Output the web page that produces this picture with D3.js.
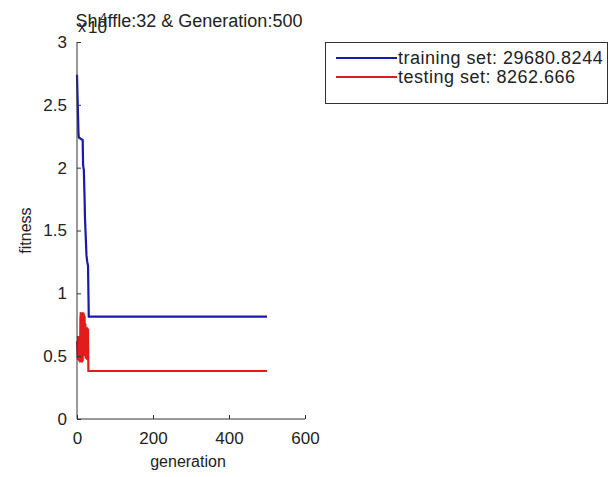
<!DOCTYPE html>
<html>
<head>
<meta charset="utf-8">
<script src="https://cdn.jsdelivr.net/npm/d3@7"></script>
<style>
  html, body { margin: 0; padding: 0; background: #fff; }
  svg { display: block; font-family: "Liberation Sans", Arial, sans-serif; }
</style>
</head>
<body>
<svg id="chart" width="608" height="477"></svg>
<script>
// ---- data (fitness in raw units, axis shows x10^4) ----
const trainGen     = [0, 2, 4, 5, 15, 16, 18, 20, 21, 23, 25, 27, 29, 31, 500];
const trainFitness = [27400, 25000, 22600, 22400, 22200, 20200, 19800, 17500, 16000, 14500, 13000, 12500, 12200, 8150, 8150];

const testGen     = [0, 1, 2, 3, 4, 5, 6, 7, 8, 9, 10, 11, 12, 13, 14, 15, 16, 17, 18, 19, 20, 21, 22, 23, 24, 25, 26, 27, 28, 29, 30, 500];
const testFitness = [6200, 5500, 4800, 6600, 4700, 5800, 4600, 5200, 4500, 8000, 8500, 5000, 8400, 4500, 8300, 4600, 8500, 6000, 8400, 5000, 8200, 5500, 7600, 4800, 7200, 5000, 7300, 4700, 7000, 7200, 3820, 3820];

const xTicks = [0, 200, 400, 600];
const yTicks = [0, 5000, 10000, 15000, 20000, 25000, 30000];
const yTickLabels = ["0", "0.5", "1", "1.5", "2", "2.5", "3"];

const titleText = "Shuffle:32 & Generation:500";
const xLabel = "generation";
const yLabel = "fitness";
const legendLabels = ["training set: 29680.8244", "testing set: 8262.666"];
const seriesColors = ["#1a1aa8", "#e01c1c"];

// ---- layout ----
const svg = d3.select("#chart");
const x = d3.scaleLinear().domain([0, 600]).range([77, 305]);
const y = d3.scaleLinear().domain([0, 30000]).range([419, 42]);
const axisColor = "#333";

// lines
const line = d3.line().x(d => x(d[0])).y(d => y(d[1]));
const trainData = trainGen.map((g, i) => [g, trainFitness[i]]);
const testData = testGen.map((g, i) => [g, testFitness[i]]);

svg.append("path").datum(testData)
  .attr("d", line).attr("fill", "none")
  .attr("stroke", seriesColors[1]).attr("stroke-width", 2.2);
svg.append("path").datum(trainData)
  .attr("d", line).attr("fill", "none")
  .attr("stroke", seriesColors[0]).attr("stroke-width", 2.2);

// x axis
const xAxis = d3.axisBottom(x).tickValues(xTicks).tickSize(-4).tickPadding(13).tickFormat(d3.format("d"));
const gx = svg.append("g").attr("transform", `translate(0,${y(0)})`).call(xAxis);
gx.select(".domain").attr("stroke", axisColor).attr("d", `M${x(0)},0H${x(600)}`);
gx.selectAll(".tick line").attr("stroke", axisColor);
gx.selectAll(".tick text").attr("fill", "#222").style("font-size", "17px");

// y axis
const yAxis = d3.axisLeft(y).tickValues(yTicks).tickSize(-4).tickPadding(10)
  .tickFormat((d, i) => yTickLabels[i]);
const gy = svg.append("g").attr("transform", `translate(${x(0)},0)`).call(yAxis);
gy.select(".domain").attr("stroke", axisColor).attr("d", `M0,${y(0)}V${y(30000)}`);
gy.selectAll(".tick line").attr("stroke", axisColor);
gy.selectAll(".tick text").attr("fill", "#222").style("font-size", "17px");

// exponent label
svg.append("text").attr("x", 78).attr("y", 32).attr("fill", "#222")
  .style("font-size", "16px").text("x");
svg.append("text").attr("x", 88).attr("y", 33).attr("fill", "#222")
  .style("font-size", "17px").text("10");
svg.append("text").attr("x", 100).attr("y", 22).attr("fill", "#222")
  .style("font-size", "12px").text("4");

// title
svg.append("text").attr("x", 189).attr("y", 27).attr("text-anchor", "middle")
  .attr("fill", "#222").style("font-size", "18px").text(titleText);

// axis labels
svg.append("text").attr("x", 188).attr("y", 467).attr("text-anchor", "middle")
  .attr("fill", "#222").style("font-size", "16px").text(xLabel);
svg.append("text").attr("transform", `translate(31,${(y(0) + y(30000)) / 2}) rotate(-90)`)
  .attr("text-anchor", "middle").attr("fill", "#222").style("font-size", "16px").text(yLabel);

// legend
const lg = svg.append("g");
lg.append("rect").attr("x", 325.5).attr("y", 42.5).attr("width", 282).attr("height", 61)
  .attr("fill", "#fff").attr("stroke", "#333").attr("stroke-width", 1);
legendLabels.forEach((lab, i) => {
  const ly = 58 + i * 19;
  lg.append("line").attr("x1", 336).attr("x2", 397).attr("y1", ly).attr("y2", ly)
    .attr("stroke", seriesColors[i]).attr("stroke-width", 2.2);
  lg.append("text").attr("x", 398).attr("y", ly + 6).attr("fill", "#222")
    .style("font-size", "18px").style("letter-spacing", "0.5px").text(lab);
});
</script>
</body>
</html>
